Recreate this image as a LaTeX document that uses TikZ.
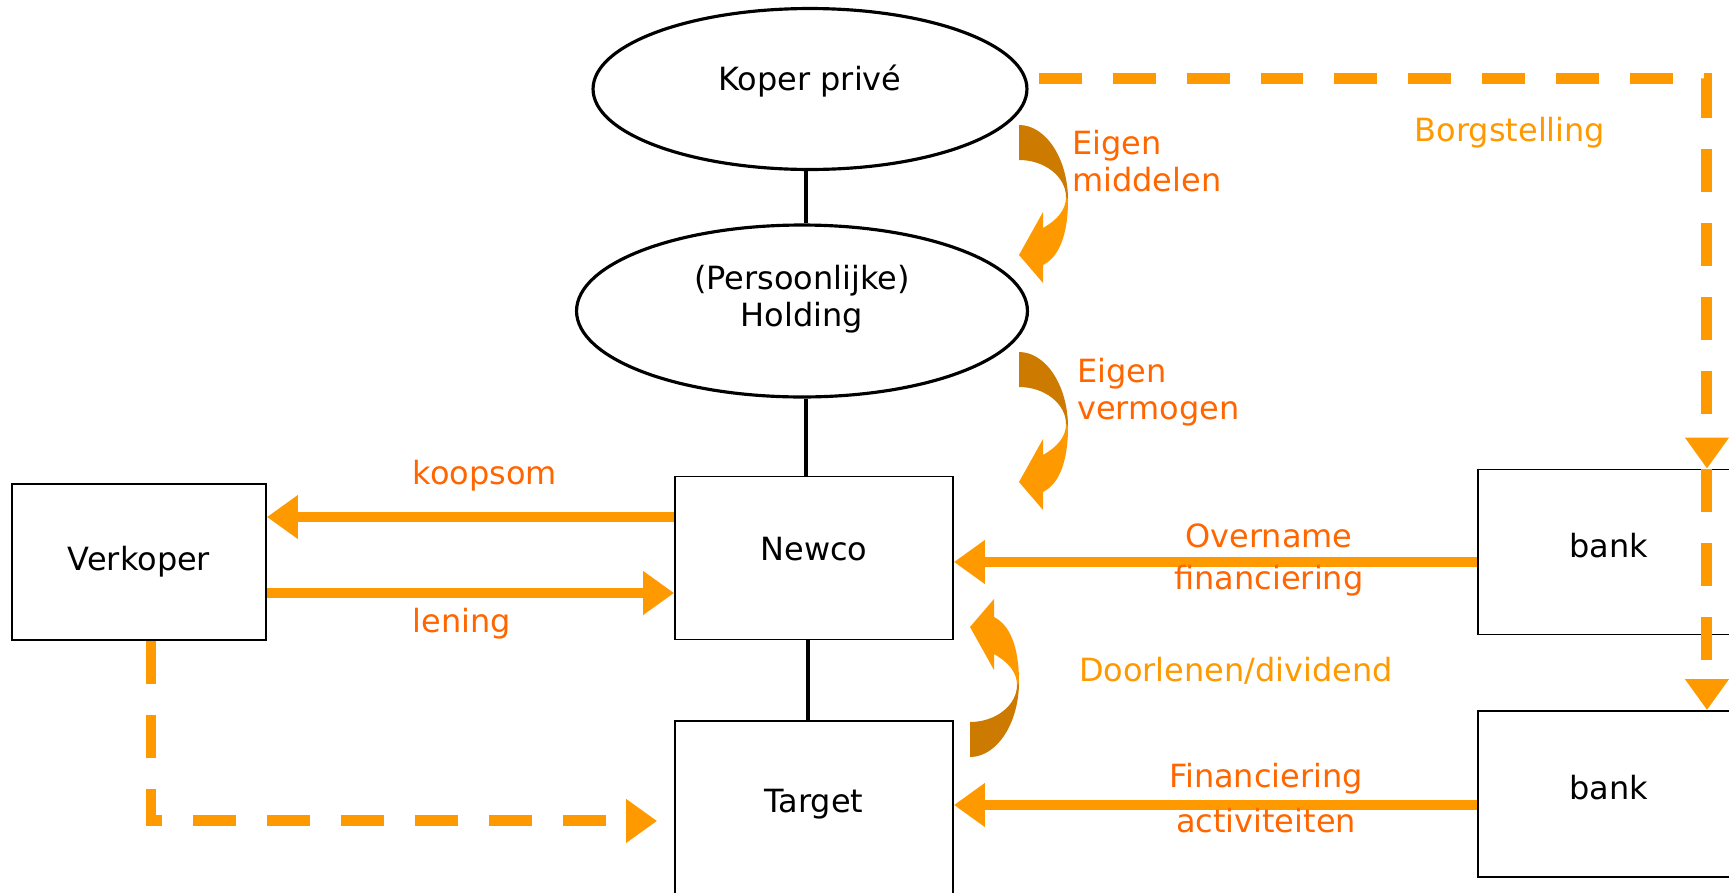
\documentclass[tikz,border=0pt]{standalone}
\usepackage{fontspec}
\setmainfont{DejaVu Sans}
\usetikzlibrary{arrows.meta,shapes.geometric}
\definecolor{flowor}{HTML}{FF9900}
\definecolor{txtor}{HTML}{FF6600}
\definecolor{darkor}{HTML}{CC7A00}
\begin{document}
\begin{tikzpicture}[x=0.02cm,y=-0.02cm,
    font=\fontsize{18.2}{21}\selectfont,
    party/.style={draw,line width=1.8pt,ellipse,inner sep=0pt,align=center},
    box/.style={draw,line width=1.1pt,rectangle,inner sep=0pt},
    lift/.style={text depth=#1},
    link/.style={line width=2.4pt},
    flow/.style={draw=flowor,line width=0.2cm,-{Triangle[length=0.62cm,width=0.84cm]}},
    dflow/.style={flow,line width=0.22cm,dash pattern=on 0.86cm off 0.62cm},
    redlabel/.style={text=txtor,align=center},
    ambelabel/.style={text=flowor,align=center},
    bendarrow/.pic={
      \fill[darkor] (0,0) .. controls (27,0) and (49,34) .. (49,75) -- (47,72)
                   .. controls (47,52) and (26,35) .. (0,35) -- cycle;
      \fill[flowor] (49,75) .. controls (49,110) and (40,132) .. (24,140) -- (24,158)
                   -- (0,130) -- (24,87) -- (24,103) .. controls (38,95) and (47,85) .. (47,72) -- cycle;
    }]
\useasboundingbox (0,0) rectangle (1729,893);
\clip (0,0) rectangle (1729,893);

% Drawing the parties
\node (koper) [party,lift=0.46cm,minimum width=8.68cm,minimum height=3.22cm] at (810,89) {Koper privé};
\node (holding) [party,lift=0.62cm,minimum width=9.02cm,minimum height=3.44cm] at (802,311) {(Persoonlijke)\\Holding};
\node (newco) [box,lift=0.36cm,minimum width=5.56cm,minimum height=3.26cm] at (814,558) {Newco};
\node (verkoper) [box,minimum width=5.08cm,minimum height=3.12cm] at (139,562) {Verkoper};
\node (target) [box,anchor=north,minimum width=5.56cm,minimum height=3.8cm] at (814,720) {\raisebox{0.6cm}{Target}};
\node (bank1) [box,lift=0.26cm,minimum width=5.24cm,minimum height=3.3cm] at (1609,552) {bank};
\node (bank2) [box,lift=0.26cm,minimum width=5.24cm,minimum height=3.32cm] at (1609,794) {bank};

% Drawing the ownership lines
\draw [link] ([xshift=-0.08cm]koper.south) -- ([xshift=-0.08cm]koper.south |- holding.north);
\draw [link] ([xshift=0.08cm]holding.south) -- ([xshift=0.08cm]holding.south |- newco.north);
\draw [link] ([xshift=-0.12cm]newco.south) -- ([xshift=-0.12cm]newco.south |- target.north);

% Drawing the money flows
\draw [flow] ([yshift=0.82cm]newco.west) coordinate (ks) -- (ks -| verkoper.east);
\draw [flow] ([yshift=-0.62cm]verkoper.east) coordinate (ln) -- (ln -| newco.west);
\draw [flow] ([yshift=-0.2cm]bank1.west) coordinate (ov) -- (ov -| newco.east);
\draw [flow] ([yshift=-0.22cm]bank2.west) coordinate (fa) -- (fa -| target.east);

% Drawing the dashed flows
\draw [dflow] ([xshift=0.24cm]verkoper.south) |- ([xshift=-0.34cm,yshift=-0.1cm]target.west);
\draw [dflow] ([xshift=0.2cm,yshift=0.22cm]koper.east) -| ([xshift=1.96cm]bank1.north);
\draw [dflow] ([xshift=1.96cm]bank1.north) -- ([xshift=1.96cm]bank2.north);

% Drawing the curved arrows
\pic (eigmid) at (1019,125) {bendarrow};
\pic (eigverm) at (1019,352) {bendarrow};
\pic (door) [yscale=-1] at (970,757) {bendarrow};

% Marking the labels
\node (lkoop) [redlabel] at (485,476) {koopsom};
\node (llen) [redlabel] at (462,624) {lening};
\node (lover) [redlabel] at (1269,560) {Overname\\[2.5pt]financiering};
\node (lfin) [redlabel] at (1266,798) {Financiering\\[5pt]activiteiten};
\node (lmid) [redlabel,anchor=west,align=left] at (1066,161) {Eigen\\middelen};
\node (lverm) [redlabel,anchor=west,align=left] at (1071,392) {Eigen\\vermogen};
\node (ldoor) [ambelabel] at (1236,671) {Doorlenen/dividend};
\node (lborg) [ambelabel] at (1510,133) {Borgstelling};
\end{tikzpicture}
\end{document}
